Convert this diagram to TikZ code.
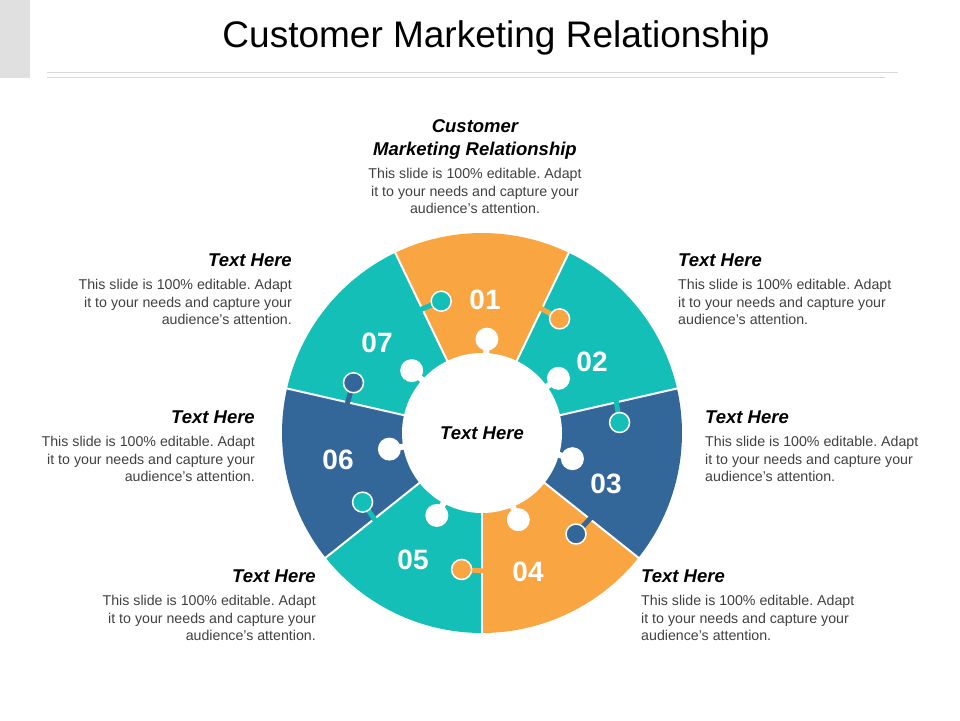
\documentclass[tikz,border=0pt]{standalone}
\usepackage{fontspec}
\setmainfont{Liberation Sans}
\usetikzlibrary{positioning}
\usetikzlibrary{calc}
\frenchspacing
\definecolor{pieceorange}{HTML}{F9A541}
\definecolor{pieceteal}{HTML}{14BFB8}
\definecolor{pieceblue}{HTML}{336699}
\definecolor{bodygray}{HTML}{404040}
\tikzset{
  heading/.style={font=\fontsize{18.5}{23}\selectfont\bfseries\itshape, inner sep=0pt},
  bodytext/.style={font=\fontsize{14.2}{17.6}\selectfont, text=bodygray, inner sep=0pt},
  number/.style={font=\fontsize{28}{30}\selectfont\bfseries, text=white, inner sep=0pt}
}
\begin{document}
\begin{tikzpicture}[x=1pt,y=1pt]
\useasboundingbox (0,0) rectangle (960,720);
% title bar
\fill[black!12] (0,642) rectangle (30,720);
\draw[black!15, line width=1pt] (47,647) -- (898,647);
\draw[black!15, line width=1pt] (47,642) -- (885,642);
\node[font=\fontsize{37}{40}\selectfont] (title) at (496,682) {Customer Marketing Relationship};
% puzzle wheel
\coordinate (c) at (482,287);
\foreach \i/\col in {0/pieceorange,1/pieceteal,2/pieceblue,3/pieceorange,4/pieceteal,5/pieceblue,6/pieceteal}{
  \pgfmathsetmacro{\aa}{90-\i*360/7+180/7}
  \pgfmathsetmacro{\ab}{90-\i*360/7-180/7}
  \fill[\col] (c) -- ++(\aa:200) arc[start angle=\aa, end angle=\ab, radius=200] -- cycle;
}
\foreach \i in {0,...,6}{
  \pgfmathsetmacro{\ab}{90-\i*360/7-180/7}
  \draw[white, line width=2pt] ($(c)+(\ab:80)$) -- ($(c)+(\ab:201)$);
}
% knobs on the seams
\foreach \i/\col in {0/pieceorange,1/pieceteal,2/pieceblue,3/pieceorange,4/pieceteal,5/pieceblue,6/pieceteal}{
  \pgfmathsetmacro{\ab}{90-\i*360/7-180/7}
  \pgfmathsetmacro{\ak}{\ab-8.5}
  \draw[\col, line width=5pt] ($(c)+(\ab+1:138)$) -- ($(c)+(\ak:138)$);
  \draw[white, line width=1.5pt, fill=\col] ($(c)+(\ak:138)$) circle (10);
}
% centre with inner knobs
\fill[white] (c) circle (80);
\foreach \i in {0,...,6}{
  \pgfmathsetmacro{\am}{90-\i*360/7-3}
  \draw[white, line width=6pt] (c) -- ($(c)+(\am:94)$);
  \fill[white] ($(c)+(\am:94)$) circle (11.5);
}
\node[heading] (centre) at (482,287) {Text Here};
% numbers
\node[number] (n01) at (485,420) {01};
\node[number] (n02) at (592,358) {02};
\node[number] (n03) at (606,236) {03};
\node[number] (n04) at (528,148) {04};
\node[number] (n05) at (413,160) {05};
\node[number] (n06) at (338,260) {06};
\node[number] (n07) at (377,377) {07};
% captions
\node[heading, align=center] (h0) at (475,581) {Customer\\Marketing Relationship};
\node[bodytext, align=center, below=9pt of h0] (b0) {This slide is 100\% editable. Adapt\\it to your needs and capture your\\audience's attention.};
\node[heading, anchor=east] (h7) at (292,460) {Text Here};
\node[bodytext, align=right, anchor=north east] (b7) at (292,441) {This slide is 100\% editable. Adapt\\it to your needs and capture your\\audience's attention.};
\node[heading, anchor=east] (h6) at (255,303) {Text Here};
\node[bodytext, align=right, anchor=north east] (b6) at (255,284) {This slide is 100\% editable. Adapt\\it to your needs and capture your\\audience's attention.};
\node[heading, anchor=east] (h5) at (316,144) {Text Here};
\node[bodytext, align=right, anchor=north east] (b5) at (316,125) {This slide is 100\% editable. Adapt\\it to your needs and capture your\\audience's attention.};
\node[heading, anchor=west] (h1) at (678,460) {Text Here};
\node[bodytext, align=left, anchor=north west] (b1) at (678,441) {This slide is 100\% editable. Adapt\\it to your needs and capture your\\audience's attention.};
\node[heading, anchor=west] (h2) at (705,303) {Text Here};
\node[bodytext, align=left, anchor=north west] (b2) at (705,284) {This slide is 100\% editable. Adapt\\it to your needs and capture your\\audience's attention.};
\node[heading, anchor=west] (h3) at (641,144) {Text Here};
\node[bodytext, align=left, anchor=north west] (b3) at (641,125) {This slide is 100\% editable. Adapt\\it to your needs and capture your\\audience's attention.};
\end{tikzpicture}
\end{document}
